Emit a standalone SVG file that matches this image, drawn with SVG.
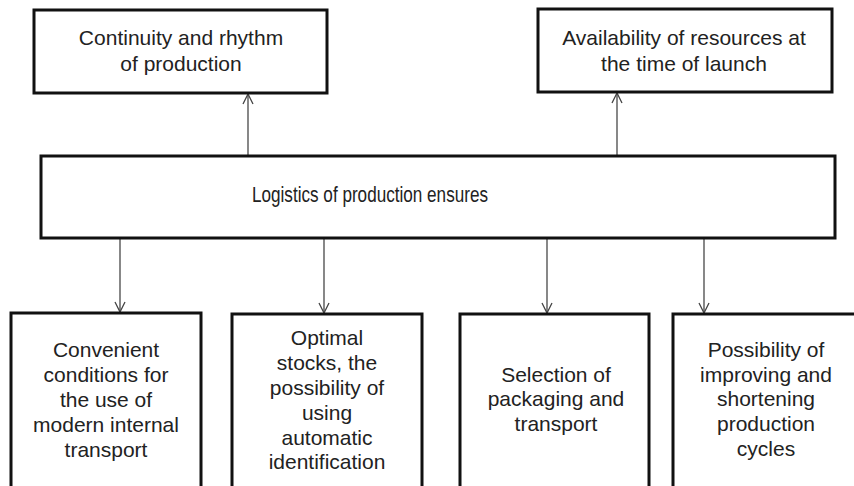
<svg xmlns="http://www.w3.org/2000/svg" width="854" height="486" viewBox="0 0 854 486">
<defs>
<marker id="arr" viewBox="0 0 12 12" refX="11" refY="6" markerWidth="12" markerHeight="12" markerUnits="userSpaceOnUse" orient="auto">
<path d="M1,1 L11,6 L1,11" fill="none" stroke="#444" stroke-width="1.3"/>
</marker>
<style>
.box{fill:#fff;stroke:#111;stroke-width:3}
.t{font-family:"Liberation Sans",Arial,sans-serif;font-size:21px;fill:#222;text-anchor:middle}
.c{stroke:#555;stroke-width:1.4;fill:none;marker-end:url(#arr)}
</style>
</defs>
<rect width="854" height="486" fill="#fff"/>
<g id="connectors">
<line class="c" x1="248" y1="156" x2="248" y2="94"/>
<line class="c" x1="617" y1="156" x2="617" y2="93"/>
<line class="c" x1="120" y1="238" x2="120" y2="312"/>
<line class="c" x1="324" y1="238" x2="324" y2="313"/>
<line class="c" x1="547" y1="238" x2="547" y2="313"/>
<line class="c" x1="704" y1="238" x2="704" y2="313"/>
</g>
<g id="top-left">
<rect class="box" x="34" y="10" width="293" height="83"/>
<text class="t" x="181" y="45">Continuity and rhythm</text>
<text class="t" x="181" y="71">of production</text>
</g>
<g id="top-right">
<rect class="box" x="538" y="9" width="294" height="83"/>
<text class="t" x="684" y="45">Availability of resources at</text>
<text class="t" x="684" y="71">the time of launch</text>
</g>
<g id="center">
<rect class="box" x="41" y="156" width="794" height="82"/>
<text class="t" x="370" y="202" style="font-size:22.5px" textLength="236" lengthAdjust="spacingAndGlyphs">Logistics of production ensures</text>
</g>
<g id="bottom-1">
<rect class="box" x="11" y="313" width="190" height="186"/>
<text class="t" x="106" y="357">Convenient</text>
<text class="t" x="106" y="382">conditions for</text>
<text class="t" x="106" y="407">the use of</text>
<text class="t" x="106" y="432">modern internal</text>
<text class="t" x="106" y="457">transport</text>
</g>
<g id="bottom-2">
<rect class="box" x="232" y="314" width="190" height="186"/>
<text class="t" x="327" y="345">Optimal</text>
<text class="t" x="327" y="370">stocks, the</text>
<text class="t" x="327" y="395">possibility of</text>
<text class="t" x="327" y="420">using</text>
<text class="t" x="327" y="445">automatic</text>
<text class="t" x="327" y="469">identification</text>
</g>
<g id="bottom-3">
<rect class="box" x="460" y="314" width="189" height="186"/>
<text class="t" x="556" y="382">Selection of</text>
<text class="t" x="556" y="406">packaging and</text>
<text class="t" x="556" y="431">transport</text>
</g>
<g id="bottom-4">
<rect class="box" x="673" y="314" width="190" height="186"/>
<text class="t" x="766" y="357">Possibility of</text>
<text class="t" x="766" y="382">improving and</text>
<text class="t" x="766" y="406">shortening</text>
<text class="t" x="766" y="431">production</text>
<text class="t" x="766" y="456">cycles</text>
</g>
</svg>
